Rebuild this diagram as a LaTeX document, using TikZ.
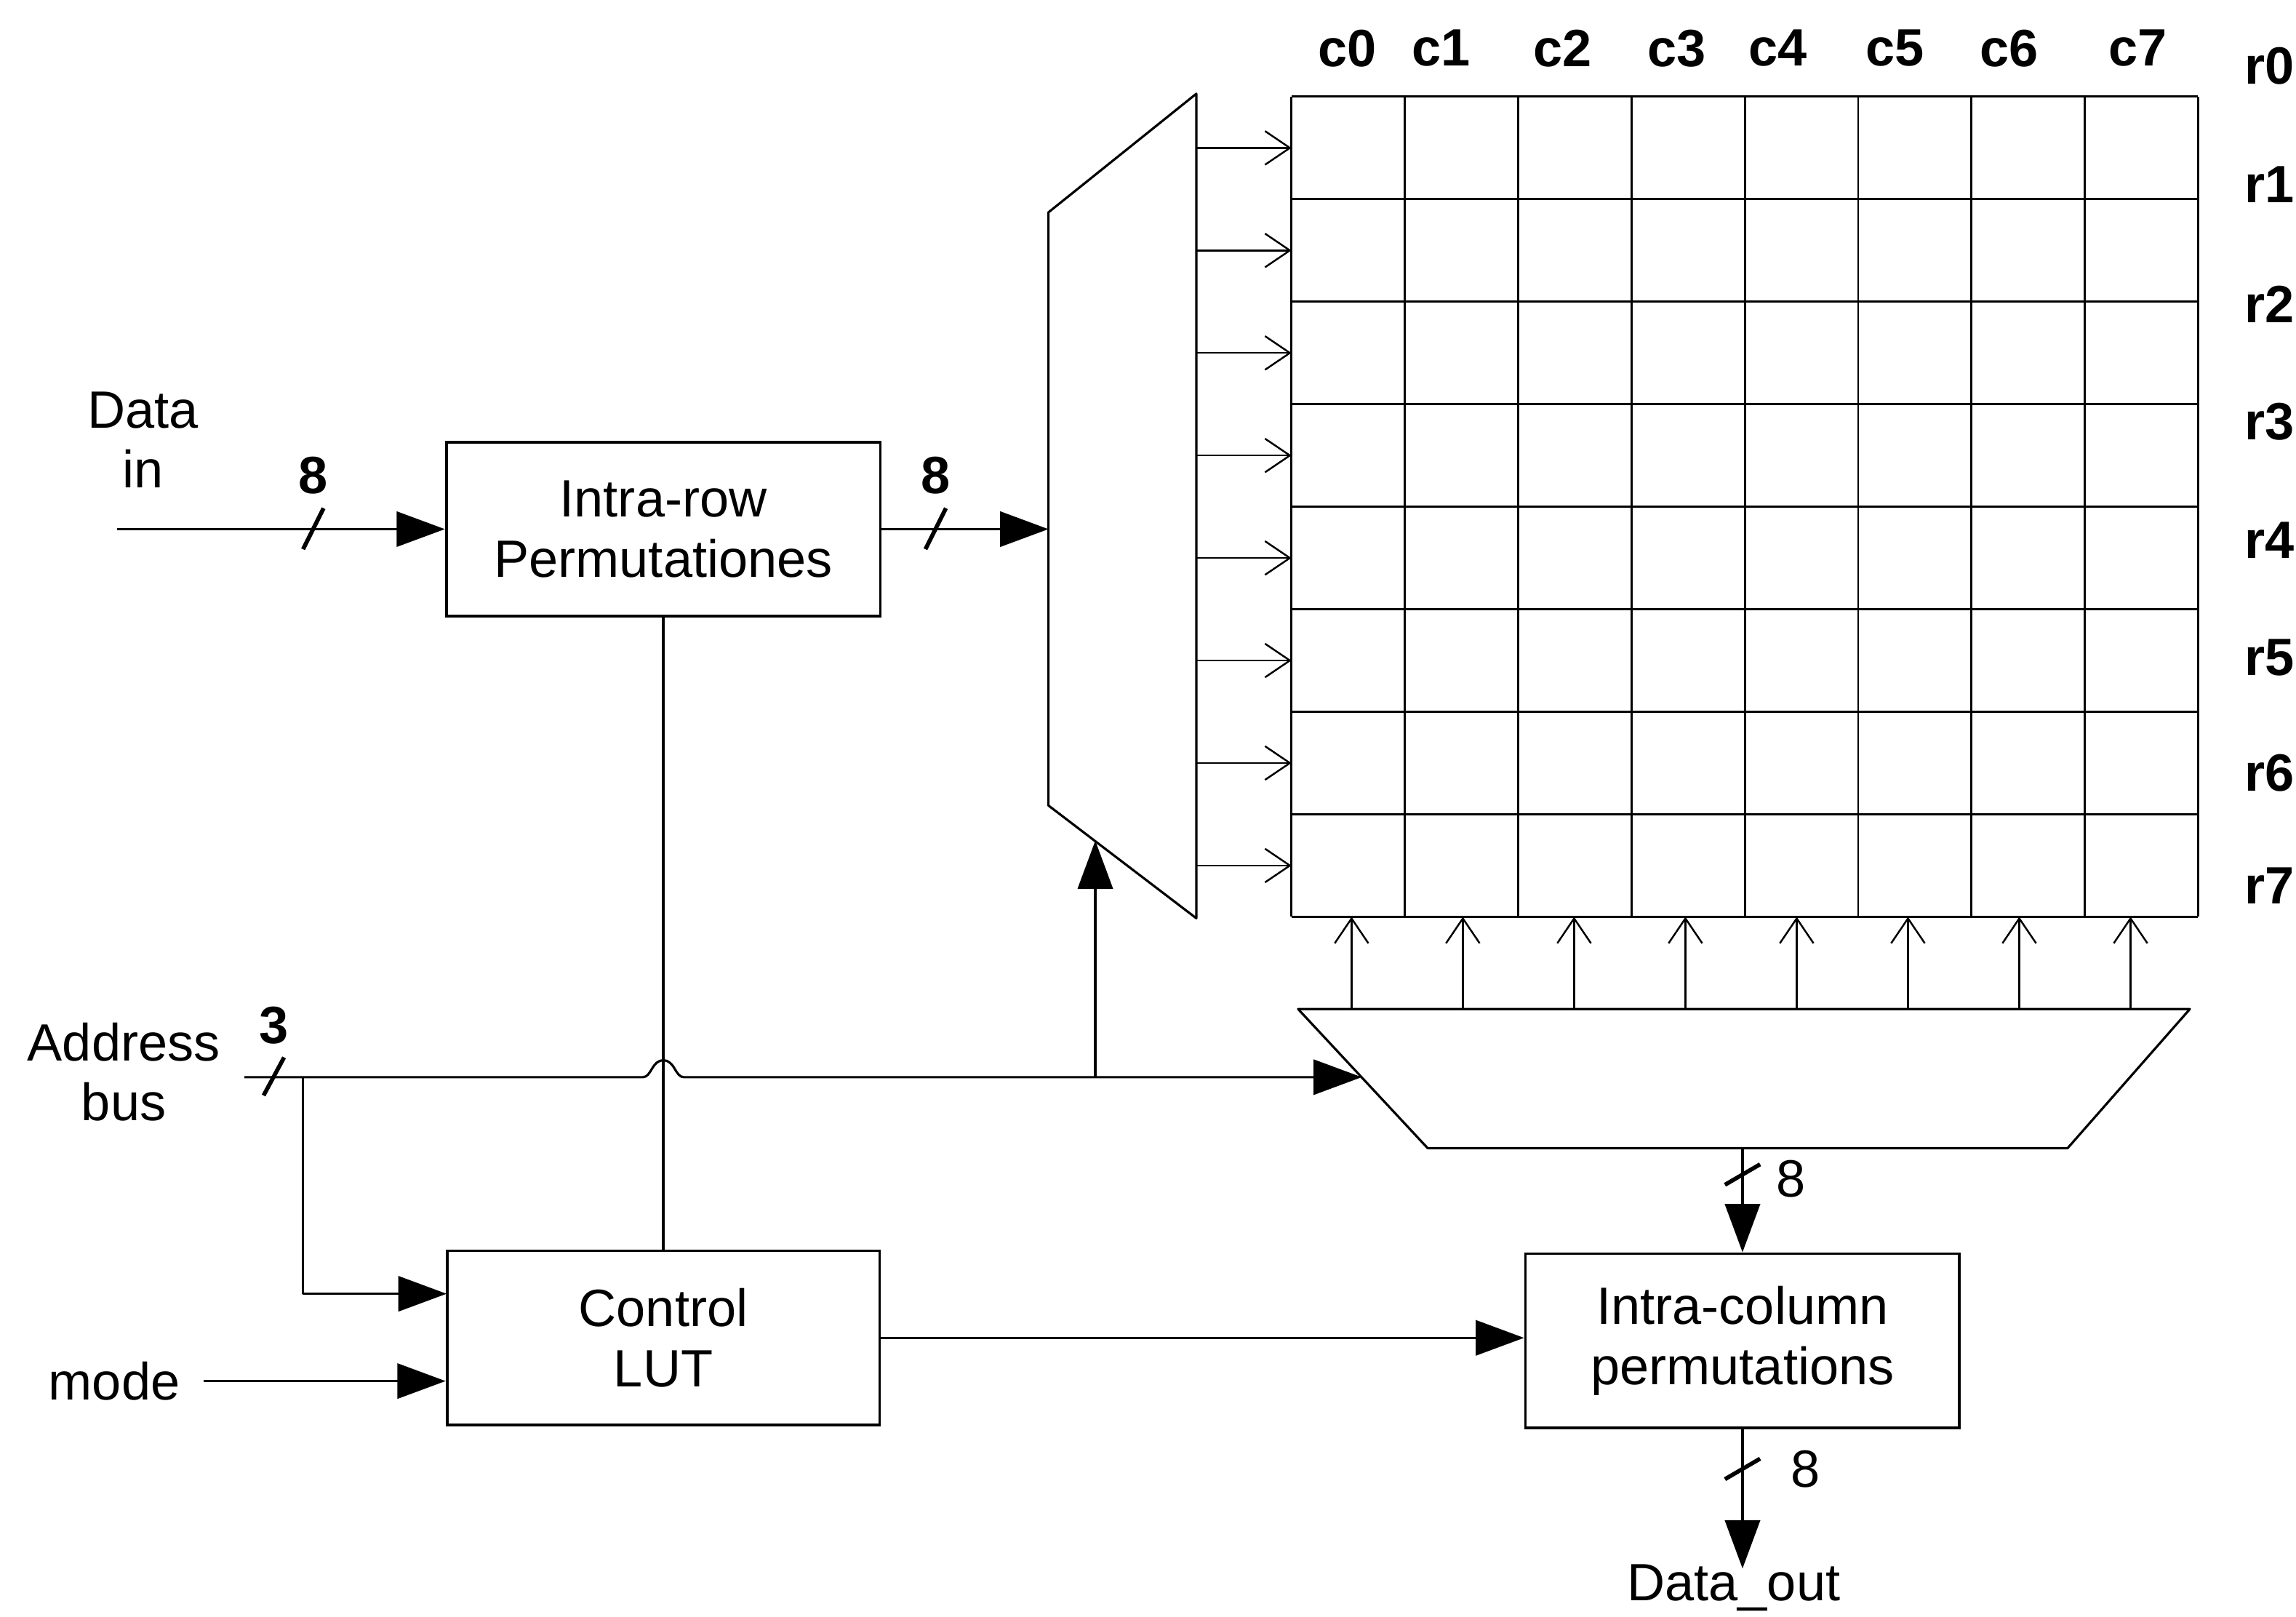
\documentclass[tikz,border=0pt]{standalone}
\usepackage{fontspec}
\setmainfont{Liberation Sans}
\usetikzlibrary{arrows.meta}
\newcommand{\diagfont}{\fontsize{20.4pt}{23.3pt}\selectfont}
\begin{document}
\begin{tikzpicture}[x=0.02cm,y=-0.02cm,
  wire/.style={line width=0.9pt,line join=round},
  bus/.style={wire,-{Triangle[length=0.66cm,width=0.48cm]}},
  feed/.style={line width=0.7pt,-{Straight Barb[length=0.34cm,width=0.46cm]}},
  gridline/.style={line width=0.8pt},
  blk/.style={draw,line width=1.1pt,align=center,inner sep=0pt,font=\diagfont},
  txt/.style={inner sep=0pt,align=center,font=\diagfont},
  btxt/.style={inner sep=0pt,align=center,font=\diagfont\bfseries},
  tick/.style={line width=1.6pt},
]
\useasboundingbox (0,0) rectangle (1568,1104);

% ---------- blocks ----------
\node[blk,minimum width=5.93cm,minimum height=2.37cm] (irow) at (453,361.3) {Intra-row\\Permutationes};
\node[blk,minimum width=5.91cm,minimum height=2.38cm] (ctl) at (453,913.5) {Control\\LUT};
\node[blk,minimum width=5.93cm,minimum height=2.38cm] (icol) at (1190,915.5) {Intra-column\\permutations};

% ---------- 8x8 cell array ----------
\foreach \i in {0,...,8}
  \draw[gridline] (882,66+70*\i) -- (1501,66+70*\i);
\foreach \j in {0,...,8}
  \draw[gridline] (882+77.4*\j,66) -- (882+77.4*\j,626);

% column and row labels
\foreach \x/\t in {920/c0,984/c1,1067/c2,1145/c3,1214/c4,1294/c5,1372/c6,1460/c7}
  \node[btxt] (lab-\t) at (\x,33) {\t};
\foreach \y/\t in {45/r0,126/r1,208/r2,288/r3,369/r4,449/r5,528/r6,605/r7}
  \node[btxt] (lab-\t) at (1550,\y) {\t};

% ---------- row demultiplexer ----------
\coordinate (rm1) at (716,145);
\coordinate (rm2) at (817,64);
\coordinate (rm3) at (817,627);
\coordinate (rm4) at (716,550);
\draw[wire] (rm1) -- (rm2) -- (rm3) -- (rm4) -- cycle;
\foreach \i in {0,...,7} {
  \coordinate (rout\i) at (817,101+70*\i);
  \coordinate (rin\i) at (882,101+70*\i);
  \draw[feed] (rout\i) -- (rin\i);
}

% ---------- column multiplexer ----------
\coordinate (cm1) at (886.5,689);
\coordinate (cm2) at (1495.5,689);
\coordinate (cm3) at (1412,784);
\coordinate (cm4) at (975,784);
\draw[wire] (cm1) -- (cm2) -- (cm3) -- (cm4) -- cycle;
\foreach \j in {0,...,7} {
  \coordinate (cout\j) at (923+76*\j,689);
  \coordinate (cin\j) at (923+76*\j,626);
  \draw[feed] (cout\j) -- (cin\j);
}

% ---------- data input ----------
\node[txt] (datain) at (97.5,300.3) {Data\\in};
\coordinate (din) at (80,361.3);
\draw[bus] (din) -- (irow.west);
\draw[tick] (207,375) -- (221,347);
\node[btxt] (w1) at (214,324.5) {8};

\coordinate (rmin) at (716,361.3);
\draw[bus] (irow.east) -- (rmin);
\draw[tick] (632,375) -- (646,347);
\node[btxt] (w2) at (639,324.5) {8};

% ---------- address bus ----------
\node[txt] (addr) at (84.5,732) {Address\\bus};
\node[btxt] (w3) at (187,700) {3};
\coordinate (ab) at (167,735.5);
\coordinate (abj) at (207,735.5);
\coordinate (hopL) at (439,735.5);
\coordinate (hopR) at (467,735.5);
\coordinate (abr) at (748,735.5);
\coordinate (cmin) at (930,735.5);
\coordinate (rmsel) at (748,574);
\coordinate (ctlA) at (305,883.4);
\draw[bus] (ab) -- (hopL) .. controls (445,735.5) and (445,724) .. (453,724)
  .. controls (461,724) and (461,735.5) .. (hopR) -- (cmin);
\draw[bus] (abr) -- (rmsel);
\draw[bus] (abj) |- (ctlA);
\draw[tick] (180,748) -- (194,722);

% control line between the permutation blocks
\draw[wire] (irow.south) -- (ctl.north);

% ---------- mode input ----------
\node[txt] (model) at (78,943) {mode};
\coordinate (md) at (139,943);
\draw[bus] (md) -- (md -| ctl.west);

% ---------- control to column permutation ----------
\draw[bus] (ctl.east) -- (ctl.east -| icol.west);

% ---------- column path and output ----------
\coordinate (cmout) at (1190,784);
\draw[bus] (cmout) -- (icol.north);
\draw[tick] (1178,809) -- (1202,795);
\node[txt] (w4) at (1223,805) {8};

\coordinate (dout) at (1190,1071);
\draw[bus] (icol.south) -- (dout);
\draw[tick] (1178,1010) -- (1202,996);
\node[txt] (w5) at (1233,1003) {8};
\node[txt,anchor=base] (doutl) at (1184,1093) {Data\_out};
\end{tikzpicture}
\end{document}
